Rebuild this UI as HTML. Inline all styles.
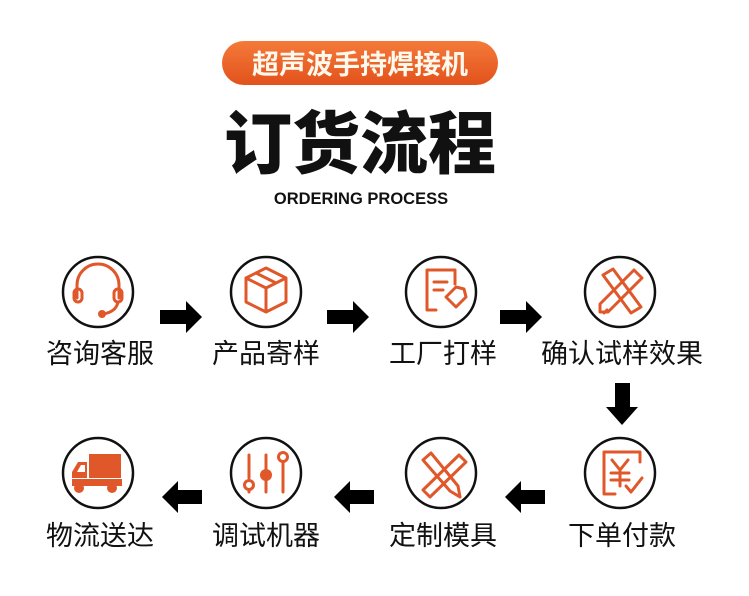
<!DOCTYPE html>
<html><head><meta charset="utf-8"><style>
html,body{margin:0;padding:0;background:#fff;}
body{width:749px;height:591px;overflow:hidden;position:relative;font-family:"Liberation Sans","Noto Sans CJK SC",sans-serif;}
</style></head><body>
<svg width="749" height="591" viewBox="0 0 749 591" xmlns="http://www.w3.org/2000/svg">
<defs>
<linearGradient id="g" x1="0" y1="0" x2="0" y2="1">
<stop offset="0" stop-color="#f47a3a"/><stop offset="1" stop-color="#e2521c"/>
</linearGradient>
</defs>
<rect x="222" y="41" width="276" height="44" rx="22" fill="url(#g)"/>
<text x="360" y="74" text-anchor="middle" font-size="27" fill="#fff8ec" font-family="Noto Sans CJK SC,sans-serif" font-weight="700">超声波手持焊接机</text>
<text x="360" y="168" text-anchor="middle" font-size="68" font-weight="900" fill="#111" font-family="Noto Sans CJK SC,sans-serif">订货流程</text>
<text x="361" y="204" text-anchor="middle" font-size="16.5" font-weight="bold" fill="#111" font-family="Liberation Sans,sans-serif">ORDERING PROCESS</text>

<g fill="none" stroke="#111" stroke-width="2.5">
<circle cx="98" cy="292" r="35"/><circle cx="266" cy="292" r="35"/><circle cx="441" cy="292" r="35"/><circle cx="620" cy="292" r="35"/>
<circle cx="98" cy="473" r="35"/><circle cx="266" cy="473" r="35"/><circle cx="441" cy="473" r="35"/><circle cx="620" cy="473" r="35"/>
</g>

<g fill="none" stroke="#e0582a" stroke-width="3" stroke-linecap="round" stroke-linejoin="round">
<path d="M77 298 V285 A21 21 0 0 1 119 285 V298"/>
<rect x="74" y="289" width="8" height="13" rx="4"/><rect x="114" y="289" width="8" height="13" rx="4"/>
<path d="M118 302 Q116 312 103 314"/>
<path d="M246 278 L266 268 L286 278 L286 302 L266 312 L246 302 Z M246 278 L266 288 L286 278 M266 288 V312 M256 273 L276 283"/>
<path d="M436 310 H427 V270 H455 V284 M434 282 H447 M434 290 H443"/>
<path d="M446 297 L456 287 L464 289 L466 297 L456 307 Z"/>
<path d="M603 275 L613 269 L641 307 L631 313 Z"/>
<path d="M634 270 L642 278 L608 312 L600 312 L600 304 Z M607 310 L604 313"/>
<path d="M615 494 H604 V452 H640 V462"/><path d="M612 460 L620 470 L628 460 M620 470 V486 M611 473 H629 M611 480 H629"/>
<path d="M626 486 L631 492 L642 478"/>
<path d="M423 460 L431 453 L458 486 L460 497 L450 491 Z"/>
<path d="M459 455 L466 462 L430 497 L423 490 Z"/>
<path d="M249 455 V478 M249 490 V492 M266 455 V492 M283 462 V492"/>
<circle cx="249" cy="485" r="4.5"/><circle cx="283" cy="457" r="4.5"/>
</g>
<circle cx="266" cy="475" r="6" fill="#e0582a"/>
<circle cx="102" cy="314" r="4" fill="#e0582a"/>
<g fill="#e0582a">
<rect x="89" y="454" width="32" height="24"/>
<path d="M72 478 V472 L78 462 H87 V478 Z"/>
<rect x="72" y="479" width="50" height="7"/>
<circle cx="79" cy="488" r="5"/><circle cx="112" cy="488" r="5"/>
</g>
<path d="M77 472 L81 465 H85 V472 Z" fill="#fff"/>

<g font-size="27" fill="#111" text-anchor="middle" font-family="Noto Sans CJK SC,sans-serif">
<text x="100" y="363">咨询客服</text><text x="266" y="363">产品寄样</text><text x="443" y="363">工厂打样</text><text x="622" y="363">确认试样效果</text>
<text x="100" y="545">物流送达</text><text x="266" y="545">调试机器</text><text x="443" y="545">定制模具</text><text x="622" y="545">下单付款</text>
</g>

<g fill="#000">
<path d="M160 310 H186 V301 L202 317 L186 333 V324 H160 Z"/>
<path d="M327 310 H353 V301 L369 317 L353 333 V324 H327 Z"/>
<path d="M500 310 H526 V301 L542 317 L526 333 V324 H500 Z"/>
<path d="M615 383 H630 V407 H638 L622 425 L606 407 H615 Z"/>
<path d="M202 490 H178 V481 L162 497 L178 513 V504 H202 Z"/>
<path d="M374 490 H350 V481 L334 497 L350 513 V504 H374 Z"/>
<path d="M545 490 H521 V481 L505 497 L521 513 V504 H545 Z"/>
</g>
</svg>
</body></html>
